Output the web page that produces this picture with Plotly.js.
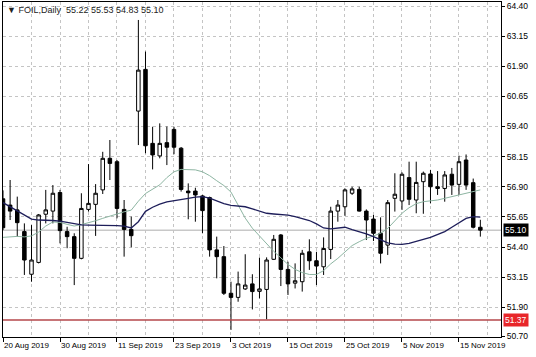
<!DOCTYPE html>
<html>
<head>
<meta charset="utf-8">
<script src="https://cdn.plot.ly/plotly-3.0.1.min.js"></script>
<style>html,body{margin:0;padding:0;background:#fff;}#chart{width:536px;height:357px;}</style>
</head>
<body>
<div id="chart"></div>
<script>
// ---- data ----
const barIndex = Array.from({length: 68}, (_, i) => i);
const opens  = [56.40,56.14,55.94,55.04,53.27,53.76,55.76,55.89,56.66,55.04,54.83,53.93,55.96,56.17,56.77,58.08,57.94,55.96,55.13,60.04,61.77,58.70,58.18,58.73,59.28,58.50,56.72,56.72,56.52,56.45,54.28,54.00,52.48,52.31,52.66,52.87,52.56,52.64,53.89,54.90,53.47,52.90,52.96,54.20,53.83,53.58,54.30,55.89,56.07,56.63,56.79,55.89,55.56,54.97,54.48,56.42,56.31,57.28,56.35,57.11,57.43,56.90,56.83,57.42,57.00,58.01,57.07,55.22];
const highs  = [56.75,57.18,56.49,55.38,55.31,55.77,56.77,56.97,56.77,55.24,54.97,56.63,57.84,57.01,58.35,58.84,58.01,56.35,55.66,63.82,62.51,59.39,59.53,59.40,59.39,58.55,57.04,56.86,56.56,56.49,54.83,54.44,52.96,53.38,54.10,53.27,53.96,53.97,54.90,54.94,53.79,53.72,54.28,54.72,54.20,54.80,56.07,56.35,56.83,56.90,56.90,55.96,55.73,55.63,56.35,57.46,57.50,57.94,57.94,57.53,57.60,57.55,57.55,57.68,58.19,58.24,57.24,55.53];
const lows   = [55.10,55.52,54.83,53.24,52.96,53.72,55.38,55.38,54.55,54.35,52.82,53.89,55.87,54.86,56.60,57.18,55.59,54.00,54.39,58.63,58.29,57.62,58.08,57.80,58.25,56.70,55.55,55.45,54.97,54.00,53.10,52.41,50.96,52.13,52.62,51.81,52.27,51.40,53.86,52.78,52.41,52.68,52.55,53.45,52.82,53.24,53.90,55.45,55.69,56.56,55.87,54.69,54.65,53.72,54.07,55.87,55.94,56.14,55.80,55.78,56.21,56.56,56.28,56.56,56.56,56.77,55.17,54.83];
const closes = [55.20,55.89,55.41,53.86,53.86,55.73,55.94,56.63,55.08,54.83,53.93,56.00,56.21,56.63,58.08,57.87,56.00,55.13,54.87,61.74,58.60,58.22,58.70,58.54,58.54,56.79,56.65,56.56,55.91,54.28,54.00,52.48,52.31,52.87,52.82,52.55,52.66,53.86,54.72,53.47,52.87,53.00,54.14,53.83,53.61,54.34,55.89,56.14,56.77,56.81,55.89,55.52,54.97,54.14,56.24,56.59,57.42,56.38,57.08,57.46,56.90,56.83,57.39,56.97,57.94,56.97,55.22,55.10];
const maSlow = [56.24,56.07,55.87,55.70,55.56,55.52,55.52,55.50,55.47,55.42,55.34,55.32,55.31,55.31,55.31,55.31,55.29,55.27,55.19,55.45,55.88,56.05,56.18,56.27,56.33,56.36,56.42,56.47,56.49,56.43,56.32,56.20,56.13,56.10,56.07,55.98,55.88,55.80,55.77,55.75,55.72,55.66,55.57,55.50,55.36,55.19,55.15,55.18,55.22,55.12,55.04,54.94,54.83,54.69,54.57,54.52,54.51,54.55,54.62,54.72,54.80,54.93,55.04,55.22,55.41,55.59,55.66,55.64];
const maFast = [54.80,54.82,54.84,54.82,54.86,55.02,55.27,55.44,55.42,55.34,55.27,55.33,55.40,55.49,55.59,55.69,55.78,55.86,55.93,56.30,56.62,56.80,56.98,57.28,57.52,57.62,57.62,57.60,57.52,57.36,57.15,56.95,56.68,56.12,55.60,55.18,54.86,54.55,54.22,53.95,53.68,53.47,53.34,53.26,53.26,53.42,53.70,53.93,54.21,54.46,54.62,54.76,54.86,54.97,55.17,55.50,55.80,56.03,56.20,56.28,56.31,56.35,56.42,56.49,56.56,56.63,56.70,56.77];
const dateTickPos = [0, 8, 16, 24, 32, 40, 48, 56, 64];
const dateTickText = ['20 Aug 2019','30 Aug 2019','11 Sep 2019','23 Sep 2019','3 Oct 2019','15 Oct 2019','25 Oct 2019','5 Nov 2019','15 Nov 2019'];
const gridPos = [0,4,8,12,16,20,24,28,32,36,40,44,48,52,56,60,64,68];
const priceTicks = [64.40, 63.15, 61.90, 60.65, 59.40, 58.15, 56.90, 55.65, 54.40, 53.15, 51.90, 50.70];
const priceTickText = ['64.40','63.15','61.90','60.65','59.40','58.15','56.90','55.65','54.40','53.15','51.90','50.70'];
const lastPrice = 55.10;
const levelLine = 51.37;
const headerText = '\u25BC FOIL,Daily  55.22 55.53 54.83 55.10';

const FONT = '"Liberation Sans", Arial, sans-serif';
const GRID = '#c4c4c4';

const traces = [
  {
    type: 'candlestick', x: barIndex, open: opens, high: highs, low: lows, close: closes,
    increasing: {line: {color: '#000', width: 1}, fillcolor: '#ffffff'},
    decreasing: {line: {color: '#000', width: 1}, fillcolor: '#000000'},
    whiskerwidth: 0, hoverinfo: 'skip', showlegend: false
  },
  {type: 'scatter', mode: 'lines', x: barIndex, y: maFast, line: {color: '#8db5a2', width: 1}, hoverinfo: 'skip', showlegend: false},
  {type: 'scatter', mode: 'lines', x: barIndex, y: maSlow, line: {color: '#1e1e5a', width: 1.3}, hoverinfo: 'skip', showlegend: false}
];

const layout = {
  width: 536, height: 357,
  margin: {l: 3, r: 35, t: 2, b: 20, pad: 0},
  paper_bgcolor: '#ffffff', plot_bgcolor: '#ffffff',
  font: {family: FONT, size: 8, color: '#000'},
  showlegend: false,
  xaxis: {
    type: 'linear', range: [0, 69.9], rangeslider: {visible: false},
    tickmode: 'array', tickvals: dateTickPos, ticktext: dateTickText,
    ticks: 'outside', ticklen: 4, tickcolor: '#000', tickwidth: 1,
    ticklabelposition: 'outside right',
    tickfont: {family: FONT, size: 8, color: '#000'},
    showgrid: true, gridcolor: GRID, griddash: '3px,3px', gridwidth: 1,
    minor: {tickmode: 'array', tickvals: gridPos, showgrid: true, gridcolor: GRID, griddash: '3px,3px', gridwidth: 1, ticks: ''},
    showline: true, linecolor: '#000', linewidth: 1, mirror: true, zeroline: false,
    fixedrange: true
  },
  yaxis: {
    side: 'right', range: [50.666, 64.566],
    tickmode: 'array', tickvals: priceTicks, ticktext: priceTickText,
    ticks: 'outside', ticklen: 3, tickcolor: '#000', tickwidth: 1,
    tickfont: {family: FONT, size: 8.5, color: '#000'},
    showgrid: true, gridcolor: GRID, griddash: '3px,3px', gridwidth: 1,
    showline: true, linecolor: '#000', linewidth: 1, mirror: true, zeroline: false,
    fixedrange: true
  },
  shapes: [
    {type: 'line', xref: 'paper', x0: 0, x1: 1, yref: 'y', y0: lastPrice, y1: lastPrice, line: {color: '#c8c8c8', width: 1.5}, layer: 'below'},
    {type: 'line', xref: 'paper', x0: 0, x1: 1, yref: 'y', y0: levelLine, y1: levelLine, line: {color: '#b5474b', width: 1.5}}
  ],
  annotations: [
    {xref: 'paper', yref: 'paper', x: 0, y: 1, xanchor: 'left', yanchor: 'top', xshift: 2, yshift: -1,
     text: headerText, showarrow: false, font: {family: FONT, size: 9, color: '#222'}},
    {xref: 'paper', yref: 'y', x: 1, y: lastPrice, xanchor: 'left', yanchor: 'middle', xshift: 2,
     text: lastPrice.toFixed(2), showarrow: false, bgcolor: '#000', borderpad: 1,
     font: {family: FONT, size: 8.5, color: '#fff'}},
    {xref: 'paper', yref: 'y', x: 1, y: levelLine, xanchor: 'left', yanchor: 'middle', xshift: 2,
     text: levelLine.toFixed(2), showarrow: false, bgcolor: '#e8262a', borderpad: 1,
     font: {family: FONT, size: 8.5, color: '#fff'}}
  ]
};

Plotly.newPlot('chart', traces, layout, {staticPlot: true, displayModeBar: false});
</script>
</body>
</html>
